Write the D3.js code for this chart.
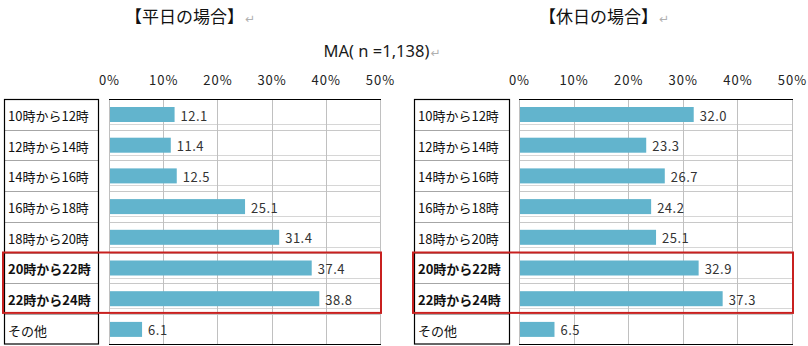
<!DOCTYPE html>
<html><head><meta charset="utf-8">
<script src="https://cdn.jsdelivr.net/npm/d3@7/dist/d3.min.js"></script>
<style>
body{margin:0;background:#fff;}
svg{display:block;font-family:"Noto Sans CJK JP","Noto Sans",sans-serif;}
</style></head>
<body><svg id="c" width="808" height="346"></svg>
<script>
const categories = ["10時から12時","12時から14時","14時から16時","16時から18時","18時から20時","20時から22時","22時から24時","その他"];
const weekdayValues = [12.1, 11.4, 12.5, 25.1, 31.4, 37.4, 38.8, 6.1];
const holidayValues = [32.0, 23.3, 26.7, 24.2, 25.1, 32.9, 37.3, 6.5];
const tickValues = [0, 10, 20, 30, 40, 50];
const highlighted = ["20時から22時","22時から24時"];
const titles = ["【平日の場合】","【休日の場合】"];
const subtitle = "MA( n =1,138)";

const svg = d3.select("#c");
const barColor = "#62b4cd";

function panel(opt){
  const g = svg.append("g");
  const x = d3.scaleLinear().domain([0,50]).range([opt.px0, opt.px1]);
  const y = d3.scaleBand().domain(categories).range([99, 344.6]).padding(0);

  // title
  const t = g.append("text").attr("x", opt.titleX).attr("y", 23).attr("text-anchor","middle")
    .attr("font-size", 17).attr("fill","#111");
  t.append("tspan").text(opt.title);
  t.append("tspan").attr("fill","#b0b0b0").attr("font-size",12).attr("font-family","DejaVu Sans").attr("dx",1).text("↵");

  // table
  g.append("g").selectAll("line").data(categories.slice(1)).join("line")
    .attr("x1", opt.tx0).attr("x2", opt.tx1)
    .attr("y1", d=>Math.round(y(d))+0.5).attr("y2", d=>Math.round(y(d))+0.5)
    .attr("stroke","#a6a6a6").attr("stroke-width",1);
  g.append("rect").attr("x", opt.tx0+0.5).attr("y", 99.5).attr("width", opt.tx1-opt.tx0).attr("height", 244.5)
    .attr("fill","none").attr("stroke","#000").attr("stroke-width",1.2);

  // plot area horizontal light lines
  g.append("g").selectAll("line").data(categories.slice(1)).join("line")
    .attr("x1", opt.px0).attr("x2", opt.px1)
    .attr("y1", d=>Math.round(y(d))+0.5).attr("y2", d=>Math.round(y(d))+0.5)
    .attr("stroke","#c8c8c8");
  g.append("g").selectAll("line").data(categories.slice(0,-1)).join("line")
    .attr("x1", opt.px0).attr("x2", opt.px1)
    .attr("y1", d=>Math.round(y(d))+25.5).attr("y2", d=>Math.round(y(d))+25.5)
    .attr("stroke","#d6d6d6");

  // vertical gridlines
  g.append("g").selectAll("line").data(tickValues).join("line")
    .attr("x1", d=>Math.round(x(d))+0.5).attr("x2", d=>Math.round(x(d))+0.5)
    .attr("y1", 99).attr("y2", 344)
    .attr("stroke","#c0c0c0");
  g.append("line").attr("x1", opt.px0).attr("x2", opt.px1+1).attr("y1",99.5).attr("y2",99.5).attr("stroke","#000").attr("stroke-width",1.2);
  g.append("line").attr("x1", opt.px0).attr("x2", opt.px1+1).attr("y1",344.5).attr("y2",344.5).attr("stroke","#000").attr("stroke-width",1);

  // axis ticks
  const ax = d3.axisTop(x).tickValues(tickValues).tickFormat(d=>d+"%").tickSize(0).tickPadding(0);
  const axg = g.append("g").attr("transform","translate(0,85)").call(ax);
  axg.select(".domain").remove();
  axg.selectAll("text").attr("font-size",13).attr("fill","#222").attr("letter-spacing","1px")
    .attr("font-family","'Noto Sans CJK JP',sans-serif");

  // bars
  g.append("g").selectAll("rect").data(categories).join("rect")
    .attr("x", x(0)+1).attr("y", d=>y(d)+8).attr("height", 15)
    .attr("width", (d,i)=>x(opt.values[i])-x(0)-1)
    .attr("fill", barColor);

  // values
  g.append("g").selectAll("text").data(categories).join("text")
    .attr("x", (d,i)=>x(opt.values[i])+6).attr("y", d=>y(d)+16)
    .attr("dominant-baseline","central")
    .attr("font-size",13).attr("fill","#333").attr("letter-spacing","0.5px")
    .text((d,i)=>opt.values[i].toFixed(1));

  // category labels
  g.append("g").selectAll("text").data(categories).join("text")
    .attr("x", opt.tx0+4).attr("y", d=>y(d)+y.bandwidth()/2+1)
    .attr("dominant-baseline","central")
    .attr("font-size",13).attr("fill","#111")
    .attr("font-weight", d=>highlighted.includes(d)?"bold":"normal")
    .text(d=>d);

  // highlight box
  const yTop = y(highlighted[0]), yBot = y(highlighted[1]) + y.bandwidth();
  g.append("rect").attr("x", opt.tx0-1).attr("y", yTop).attr("width", opt.px1 - opt.tx0 + 2).attr("height", yBot - yTop - 1)
    .attr("fill","none").attr("stroke","#c8201f").attr("stroke-width",2);
}

panel({title: titles[0], titleX: 190, tx0: 4, tx1: 98, px0: 109, px1: 380, values: weekdayValues});
panel({title: titles[1], titleX: 604, tx0: 414, tx1: 509, px0: 519, px1: 792, values: holidayValues});

const st = svg.append("text").attr("x", 382).attr("y", 57).attr("text-anchor","middle").attr("font-size",16.5).attr("fill","#1a1a1a")
  .attr("font-family","'Noto Sans','Noto Sans CJK JP',sans-serif");
st.append("tspan").text(subtitle);
st.append("tspan").attr("fill","#b0b0b0").attr("font-size",12).attr("font-family","DejaVu Sans").attr("dx",1).text("↵");
</script></body></html>
